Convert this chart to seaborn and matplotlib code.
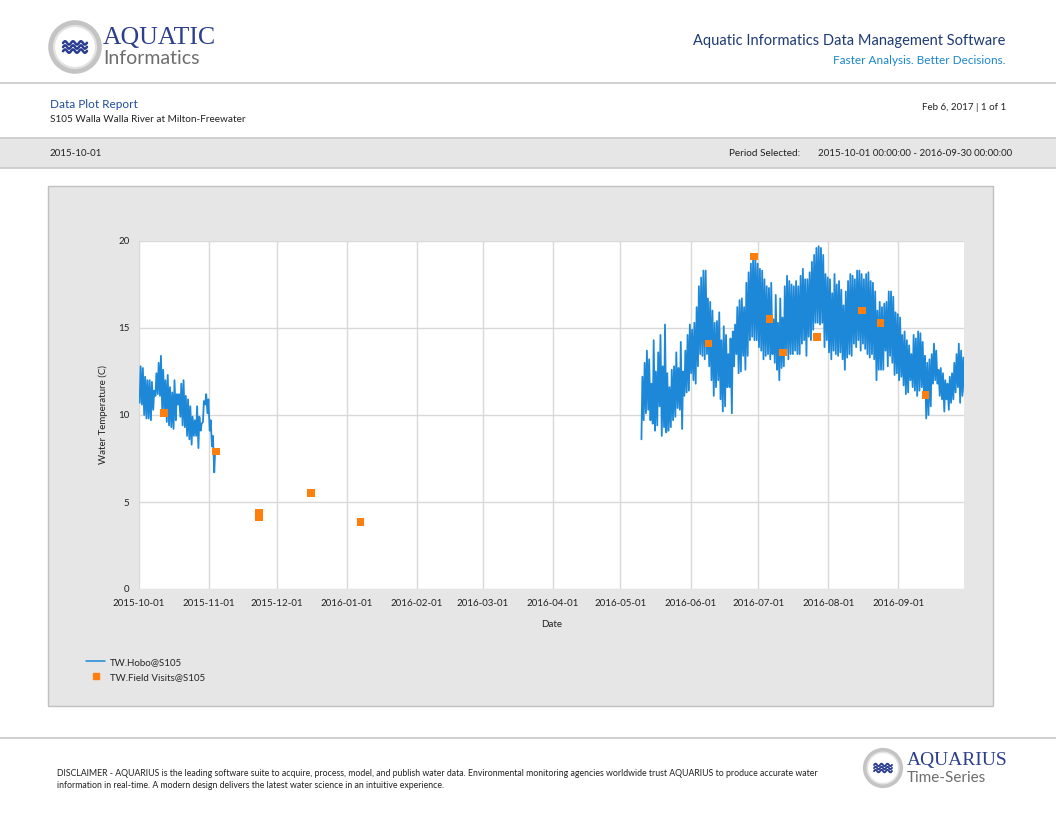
import numpy as np
import pandas as pd
import matplotlib
matplotlib.use("Agg")
import matplotlib.pyplot as plt
import matplotlib.patches as mpatches
from matplotlib.lines import Line2D
import seaborn as sns

# ---------------- data ----------------
seg1_start = "2015-10-01"
seg1_max = [12.8, 12.7, 12.2, 12.0, 12.0, 11.9, 11.4, 12.4, 13.0, 13.4,
            12.6, 12.0, 12.3, 11.6, 11.3, 12.0, 11.2, 11.2, 11.8, 12.0,
            11.1, 10.9, 10.5, 9.9, 9.7, 10.5, 9.9, 9.5, 10.8, 11.2,
            10.9, 9.7, 8.8, 8.0]
seg1_min = [10.7, 10.6, 10.0, 9.8, 9.8, 9.7, 10.3, 11.1, 11.2, 11.1,
            10.2, 10.0, 9.6, 9.4, 9.3, 9.2, 9.7, 10.6, 9.9, 9.4,
            9.3, 8.8, 8.6, 8.3, 8.8, 8.8, 8.1, 9.1, 9.6, 10.6,
            10.1, 9.1, 8.2, 6.7]

seg2_start = "2016-05-10"
seg2_max = [12.2, 13.0, 13.7, 13.2, 11.8, 14.3, 12.5, 13.6, 14.6, 12.8,
            15.2, 12.4, 11.6, 12.6, 12.8, 13.6, 12.7, 14.2, 12.5, 13.7,
            14.6, 15.2, 14.9, 15.3, 16.2, 17.4, 17.9, 18.3, 18.3, 16.7,
            16.5, 16.0, 15.3, 15.4, 15.9, 14.3, 15.1, 14.6, 13.5, 14.4,
            14.8, 15.2, 16.2, 16.6, 16.7, 16.2, 17.6, 18.2, 18.7, 19.2,
            18.9, 18.7, 18.4, 18.3, 17.8, 17.4, 17.3, 17.6, 15.5, 16.9,
            15.3, 16.7, 15.6, 17.4, 18.0, 17.7, 17.5, 17.4, 17.7, 17.4,
            18.0, 18.4, 17.8, 17.8, 18.2, 18.8, 19.2, 19.6, 19.7, 19.6,
            19.2, 18.1, 17.9, 17.8, 17.0, 18.1, 17.5, 17.7, 17.2, 16.3,
            17.1, 17.7, 18.1, 18.0, 17.8, 18.3, 18.3, 18.1, 17.8, 18.1,
            18.2, 17.7, 17.6, 17.1, 16.0, 16.5, 16.2, 16.4, 16.5, 17.1,
            17.1, 16.8, 15.9, 15.8, 15.6, 14.6, 14.8, 14.3, 14.0, 13.5,
            14.6, 14.4, 14.8, 14.7, 14.2, 13.4, 13.0, 13.2, 13.5, 14.1,
            13.7, 12.6, 12.7, 12.4, 12.0, 11.8, 12.2, 12.4, 13.0, 13.5,
            14.1, 13.7, 13.3, 13.2]
seg2_min = [8.6, 9.7, 10.1, 10.3, 9.7, 9.5, 9.1, 9.4, 10.5, 8.8,
            9.3, 9.0, 9.1, 9.3, 9.7, 9.9, 10.4, 10.3, 9.2, 11.1,
            11.3, 11.4, 12.4, 12.0, 11.8, 12.8, 13.5, 13.4, 13.2, 13.5,
            12.8, 12.0, 11.1, 11.6, 12.0, 10.9, 10.2, 10.5, 11.6, 11.6,
            10.1, 12.8, 13.5, 12.4, 12.5, 13.4, 12.6, 13.4, 14.3, 14.5,
            14.3, 14.3, 13.9, 13.7, 13.2, 13.4, 13.5, 13.2, 13.5, 13.0,
            12.6, 12.0, 12.7, 12.8, 13.5, 13.2, 13.5, 13.5, 13.7, 13.5,
            13.5, 14.1, 14.3, 13.4, 14.5, 14.3, 14.9, 15.3, 15.3, 15.2,
            15.3, 13.9, 14.3, 13.6, 13.2, 13.7, 13.5, 13.4, 13.6, 13.2,
            12.6, 13.3, 13.5, 13.4, 14.1, 13.9, 14.3, 13.7, 14.1, 13.8,
            13.5, 13.3, 13.5, 13.2, 12.0, 12.6, 12.6, 12.6, 13.7, 12.8,
            13.4, 13.0, 12.3, 12.4, 12.0, 12.2, 11.7, 11.2, 11.3, 12.0,
            11.6, 11.4, 11.1, 11.4, 11.6, 11.1, 9.8, 10.0, 10.5, 11.8,
            12.0, 11.8, 11.1, 10.9, 10.2, 10.9, 10.3, 10.7, 10.9, 11.3,
            11.6, 10.7, 11.1, 11.3]

visit_dates = ["2015-10-12", "2015-11-04", "2015-11-23", "2015-11-23",
               "2015-12-16", "2016-01-07", "2016-06-09", "2016-06-29",
               "2016-07-06", "2016-07-12", "2016-07-27", "2016-08-16",
               "2016-08-24", "2016-09-13"]
visit_values = [10.1, 7.9, 4.4, 4.1, 5.5, 3.85, 14.1, 19.1,
                15.5, 13.6, 14.5, 16.0, 15.3, 11.15]

x_tick_labels = ["2015-10-01", "2015-11-01", "2015-12-01", "2016-01-01",
                 "2016-02-01", "2016-03-01", "2016-04-01", "2016-05-01",
                 "2016-06-01", "2016-07-01", "2016-08-01", "2016-09-01"]
y_ticks = [0, 5, 10, 15, 20]

# ---------------- build tables ----------------
def build(start, mx, mn, seg):
    days = pd.date_range(start, periods=len(mx), freq="D")
    rows = []
    for d, hi, lo in zip(days, mx, mn):
        rows.append((d + pd.Timedelta(hours=7), lo, seg))
        rows.append((d + pd.Timedelta(hours=17), hi, seg))
    return pd.DataFrame(rows, columns=["Date", "Temp", "seg"])

hobo = pd.concat([build(seg1_start, seg1_max, seg1_min, 1),
                  build(seg2_start, seg2_max, seg2_min, 2)], ignore_index=True)
visits = pd.DataFrame({"Date": pd.to_datetime(visit_dates), "Temp": visit_values})

# ---------------- figure ----------------
sns.set_theme(style="white")
plt.rcParams["font.family"] = ["Lato", "DejaVu Sans"]

W, H = 1056, 816
fig = plt.figure(figsize=(W / 100, H / 100), dpi=100)
fig.patch.set_facecolor("white")

def P(x, y):
    return (x / W, 1 - y / H)

def rect(x0, y0, x1, y1, fc, ec="none", lw=0.0, z=-5):
    fig.patches.append(mpatches.Rectangle(P(x0, y1), (x1 - x0) / W, (y1 - y0) / H,
                                          transform=fig.transFigure, facecolor=fc,
                                          edgecolor=ec, linewidth=lw, zorder=z))

def hline(y, x0=0, x1=W, color="#c8c8c8", lw=1.2):
    fig.lines.append(Line2D([x0 / W, x1 / W], [1 - y / H, 1 - y / H],
                            transform=fig.transFigure, color=color, lw=lw, zorder=-4))

def logo(cx, cy, r, sc):
    fig.patches.append(mpatches.Ellipse(P(cx, cy), 2 * r / W, 2 * r / H,
                                        transform=fig.transFigure, facecolor="white",
                                        edgecolor="#c4c4c4", linewidth=4.0 * sc, zorder=-3))
    fig.patches.append(mpatches.Ellipse(P(cx, cy), 2 * (r - 3 * sc) / W, 2 * (r - 3 * sc) / H,
                                        transform=fig.transFigure, facecolor="none",
                                        edgecolor="#e2e2e2", linewidth=1.5 * sc, zorder=-3))
    t = np.linspace(-0.5, 0.5, 60)
    for dy in [-0.17, 0.0, 0.17]:
        xs = cx + t * r
        ys = cy + dy * r + 0.07 * r * np.sin(t * 2 * np.pi / 0.33)
        fig.lines.append(Line2D(xs / W, 1 - ys / H, transform=fig.transFigure,
                                color="#2b3d8f", lw=1.8 * sc, zorder=-2))

# header
logo(75, 47, 24, 1.0)
fig.text(*P(103, 38), "AQUATIC", fontsize=18.5, color="#2c3e8c", va="center", ha="left",
         family="Liberation Serif")
fig.text(*P(103, 59), "Informatics", fontsize=14, color="#6d6d6d", va="center", ha="left")
fig.text(*P(1005, 41), "Aquatic Informatics Data Management Software", fontsize=10.5,
         color="#1f3a73", ha="right", va="center")
fig.text(*P(1005, 60), "Faster Analysis. Better Decisions.", fontsize=8.5,
         color="#1a86c7", ha="right", va="center")
hline(83)

fig.text(*P(50, 104), "Data Plot Report", fontsize=8.5, color="#1f4e99", va="center")
fig.text(*P(50, 119), "S105 Walla Walla River at Milton-Freewater", fontsize=7.2,
         color="#222222", va="center")
fig.text(*P(1006, 107), "Feb 6, 2017 | 1 of 1", fontsize=7, color="#222222", ha="right",
         va="center")

# gray band
rect(0, 138, W, 168, "#e6e6e6")
hline(138)
hline(168)
fig.text(*P(50, 153), "2015-10-01", fontsize=7, color="#222222", va="center")
fig.text(*P(729, 153), "Period Selected:", fontsize=7.2, color="#222222", va="center")
fig.text(*P(818, 153), "2015-10-01 00:00:00 - 2016-09-30 00:00:00", fontsize=7,
         color="#222222", va="center")

# chart panel
rect(48, 186, 993, 706, "#e6e6e6", ec="#c0c0c0", lw=1.0)

# footer
hline(738)
fig.text(*P(57, 774), "DISCLAIMER - AQUARIUS is the leading software suite to acquire, process, "
         "model, and publish water data. Environmental monitoring agencies worldwide trust "
         "AQUARIUS to produce accurate water", fontsize=6.3, color="#222222", va="center")
fig.text(*P(57, 786), "information in real-time. A modern design delivers the latest water "
         "science in an intuitive experience.", fontsize=6.3, color="#222222", va="center")
logo(883, 768, 18, 0.75)
fig.text(*P(907, 760), "AQUARIUS", fontsize=14, color="#2c3e8c", va="center",
         family="Liberation Serif")
fig.text(*P(907, 778), "Time-Series", fontsize=11, color="#6d6d6d", va="center")

# ---------------- axes ----------------
ax = fig.add_axes([139 / W, 1 - 589 / H, 825 / W, 348 / H])
ax.set_zorder(2)
ax.set_facecolor("white")
line_color = "#1e88d8"
for s, part in hobo.groupby("seg"):
    sns.lineplot(data=part, x="Date", y="Temp", ax=ax, color=line_color, lw=1.3,
                 estimator=None, sort=True)
sns.scatterplot(data=visits, x="Date", y="Temp", ax=ax, marker="s", s=30,
                color="#ff7f0e", edgecolor="none", zorder=5)

ax.set_xlim(pd.Timestamp("2015-10-01"), pd.Timestamp("2016-09-30"))
ax.set_ylim(0, 20)
ticks = pd.to_datetime(x_tick_labels)
ax.set_xticks(ticks)
ax.set_xticklabels(x_tick_labels, fontsize=7, color="#222222")
ax.set_yticks(y_ticks)
ax.set_yticklabels([str(v) for v in y_ticks], fontsize=7, color="#222222")
ax.grid(True, color="#d9d9d9", lw=1.0)
ax.set_axisbelow(True)
for sp in ax.spines.values():
    sp.set_visible(False)
ax.tick_params(axis="both", length=0, pad=7)
ax.set_xlabel("Date", fontsize=7, color="#222222", labelpad=9)
ax.set_ylabel("Water Temperature (C)", fontsize=7, color="#222222", labelpad=7)

handles = [Line2D([0], [0], color=line_color, lw=1.1),
           Line2D([0], [0], color="#ff7f0e", marker="s", ls="none", markersize=5)]
fig.legend(handles, ["TW.Hobo@S105", "TW.Field Visits@S105"], loc="upper left",
           bbox_to_anchor=P(82, 654), frameon=False, fontsize=7, handlelength=2.0,
           handletextpad=0.5, labelspacing=0.6, borderaxespad=0)

fig.savefig("out.png", dpi=100, facecolor="white")
